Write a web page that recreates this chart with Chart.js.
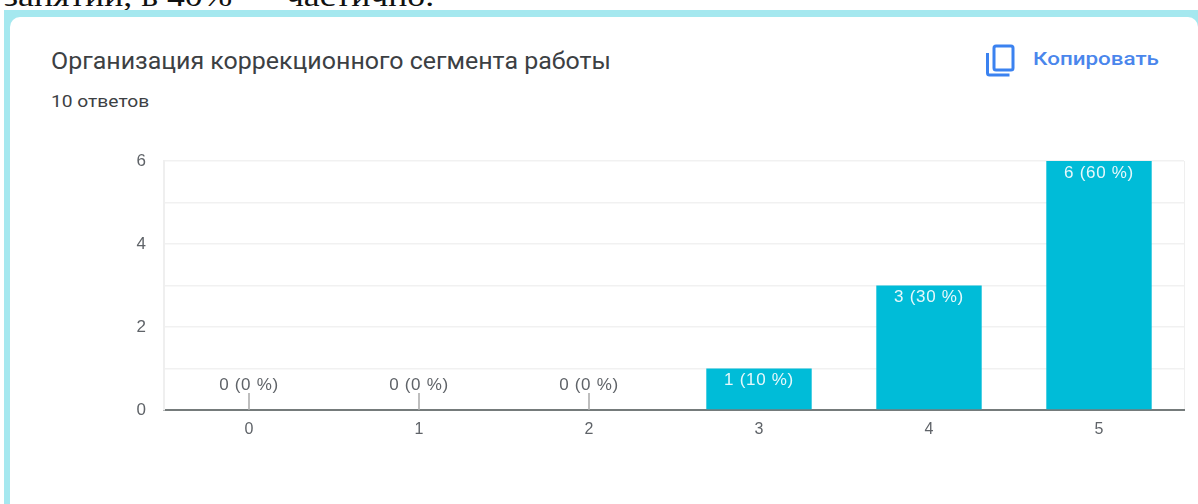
<!DOCTYPE html>
<html lang="ru">
<head>
<meta charset="utf-8">
<title>Организация коррекционного сегмента работы</title>
<script src="https://cdn.jsdelivr.net/npm/chart.js@4"></script>
<style>
    html, body { margin: 0; padding: 0; background: #fff; }
    body { position: relative; width: 1198px; height: 504px; overflow: hidden; }
    /* the source screenshot is stretched sideways, so the text is too */
    .cut, .title, .count, .copy { position: absolute; white-space: nowrap; transform-origin: 0 0; }
    .cut { left: 4px; top: -21px; font: 30px "Liberation Serif", serif; color: #111; transform: scaleX(1.19); }
    .frame { position: absolute; left: 4px; top: 10px; right: 0; bottom: 0; background: #a5e8ef; }
    .card { position: absolute; left: 10px; top: 17px; right: 0; bottom: 0; background: #fff; border-radius: 10px 10px 0 0; }
    .title { left: 51px; top: 48px; font: 23px Roboto, sans-serif; color: #3c4043; transform: scaleX(1.085); }
    .count { left: 51px; top: 92px; font: 16px Roboto, sans-serif; color: #3c4043; transform: scaleX(1.2); }
    .copy { left: 1033px; top: 47px; font: 500 19px Roboto, sans-serif; color: #4a86ec; transform: scaleX(1.18); }
    .icon { position: absolute; left: 985px; top: 44px; }
    canvas { position: absolute; left: 0; top: 0; }
</style>
</head>
<body>
<div class="cut">занятий, в 40% — частично.</div>
<div class="frame"></div>
<div class="card"></div>
<div class="title">Организация коррекционного сегмента работы</div>
<div class="count">10 ответов</div>
<svg class="icon" width="32" height="34" viewBox="0 0 32 34" fill="none" stroke="#3b82f0" stroke-width="3">
    <rect x="9" y="2" width="19" height="24" rx="2"/>
    <path d="M2.5 9v20a2 2 0 0 0 2 2h20"/>
</svg>
<div class="copy">Копировать</div>
<canvas id="answersChart" width="1198" height="504"></canvas>
<script>
const categories = ['0', '1', '2', '3', '4', '5'];
const answers = [0, 0, 0, 1, 3, 6];
const percents = [0, 0, 0, 10, 30, 60];

// Value labels: white inside the bar, grey with a small stem when the value is 0
const valueLabels = {
    id: 'valueLabels',
    afterDatasetsDraw(chart) {
        const { ctx, scales } = chart;
        const bars = chart.getDatasetMeta(0).data;
        ctx.save();
        ctx.font = '17px "Liberation Sans", sans-serif';
        ctx.letterSpacing = '0.7px';
        ctx.textAlign = 'center';
        ctx.textBaseline = 'middle';
        bars.forEach((bar, i) => {
            const label = answers[i] + ' (' + percents[i] + ' %)';
            if (answers[i] === 0) {
                const y0 = scales.y.getPixelForValue(0);
                ctx.strokeStyle = '#a8a8a8';
                ctx.lineWidth = 1.5;
                ctx.beginPath();
                ctx.moveTo(bar.x, y0 - 17);
                ctx.lineTo(bar.x, y0);
                ctx.stroke();
                ctx.fillStyle = '#5f6368';
                ctx.fillText(label, bar.x, y0 - 25);
            } else {
                ctx.fillStyle = '#e6f8fb';
                ctx.fillText(label, bar.x, bar.y + 12);
            }
        });
        ctx.restore();
    }
};

new Chart(document.getElementById('answersChart'), {
    type: 'bar',
    data: {
        labels: categories,
        datasets: [{
            data: answers,
            backgroundColor: '#00bcd8',
            barPercentage: 0.62,
            categoryPercentage: 1
        }]
    },
    options: {
        responsive: false,
        animation: false,
        layout: { padding: { top: 161, right: 14, bottom: 64 } },
        plugins: { legend: { display: false }, tooltip: { enabled: false } },
        scales: {
            x: {
                afterFit: (s) => { s.height = 30; },
                border: { color: '#757b7b', width: 2 },
                grid: {
                    drawTicks: false,
                    color: (c) => (c.tick ? 'transparent' : '#efefef')
                },
                ticks: { color: '#5f6368', padding: 10, font: { family: '"Liberation Sans"', size: 16 } }
            },
            y: {
                min: 0,
                max: 6,
                afterFit: (s) => { s.width = 164; },
                border: { color: '#efefef', width: 2 },
                grid: { color: '#f1f1f1', lineWidth: 1.5, drawTicks: false },
                ticks: {
                    stepSize: 1,
                    color: '#5f6368',
                    padding: 18,
                    font: { family: '"Liberation Sans"', size: 17 },
                    callback: (v) => (v % 2 === 0 ? v : '')
                }
            }
        }
    },
    plugins: [valueLabels]
});
</script>
</body>
</html>
